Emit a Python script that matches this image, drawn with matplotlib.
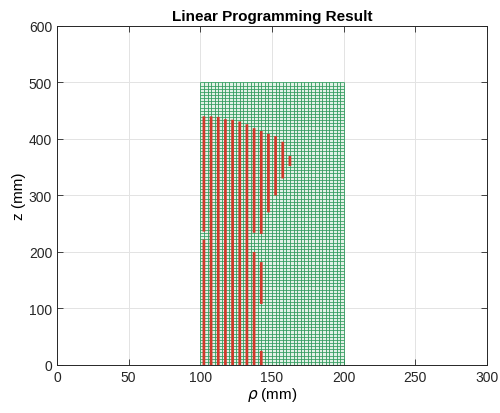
import matplotlib
matplotlib.use("Agg")
import matplotlib.pyplot as plt
import numpy as np

plt.rcParams['font.family'] = ['Liberation Sans', 'DejaVu Sans']

# Winding region (mm)
rho_min, rho_max = 100, 200
z_min, z_max = 0, 500
n_cols = 40   # grid columns
n_rows = 90   # grid rows

# Selected conductor columns (rho, mm) and their z-segments (mm)
col_rho = [102.5, 107.5, 112.5, 117.5, 122.5, 127.5, 132.5, 137.5, 142.5, 147.5, 152.5, 157.5, 162.5]
col_segments = [
    [(0, 222), (236, 440)],
    [(0, 440)],
    [(0, 439)],
    [(0, 435)],
    [(0, 434)],
    [(0, 431)],
    [(0, 426)],
    [(0, 200), (234, 419)],
    [(0, 25), (108, 182), (232, 414)],
    [(270, 409)],
    [(300, 405)],
    [(330, 395)],
    [(352, 370)],
]

fig = plt.figure(figsize=(5.0, 4.14), dpi=100)
ax = fig.add_axes([0.114, 0.116, 0.86, 0.819])

# green grid of cells
ax.add_patch(plt.Rectangle((rho_min, z_min), rho_max - rho_min, z_max - z_min,
                           facecolor='#e2f1e6', edgecolor='none', zorder=1))
xs = np.linspace(rho_min, rho_max, n_cols + 1)
zs = np.linspace(z_min, z_max, n_rows + 1)
ax.vlines(xs, z_min, z_max, colors='#2f9a5c', linewidth=0.6, zorder=2)
ax.hlines(zs, rho_min, rho_max, colors='#2f9a5c', linewidth=0.55, zorder=2)

# red conductor bars
for r, segs in zip(col_rho, col_segments):
    for a, b in segs:
        bars = ax.bar(r, b - a, bottom=a, width=1.9, color='#d0382a', edgecolor='none', zorder=3)
        for p in bars:
            p.set_snap(False)

ax.set_xlim(0, 300)
ax.set_ylim(0, 600)
ax.set_xticks(np.arange(0, 301, 50))
ax.set_yticks(np.arange(0, 601, 100))
ax.grid(True, color='#e3e3e3', linewidth=0.7, zorder=0)
ax.set_axisbelow(True)
ax.tick_params(direction='in', top=True, right=True, labelsize=10, length=4,
               colors='#262626', width=0.6)
for s in ax.spines.values():
    s.set_color('#262626')
    s.set_linewidth(0.7)
ax.set_title('Linear Programming Result', fontsize=11, fontweight='bold', pad=4)
ax.set_xlabel(r'$\rho$ (mm)', fontsize=11, labelpad=1)
ax.set_ylabel('z (mm)', fontsize=11, labelpad=2)

fig.savefig('out.png', dpi=100)
